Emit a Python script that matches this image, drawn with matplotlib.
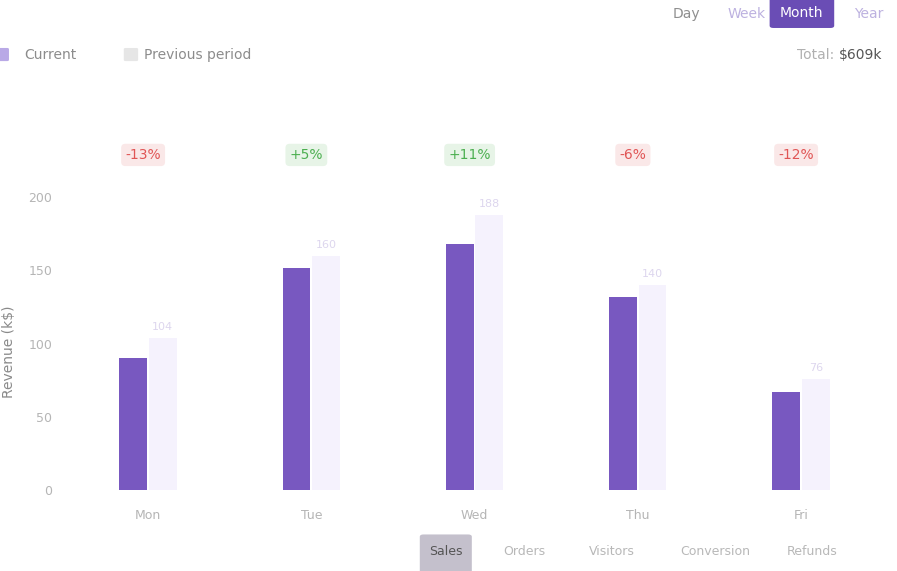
import numpy as np
import matplotlib.pyplot as plt
from matplotlib.patches import FancyBboxPatch

# data (blurred, estimated)
categories = ['Mon', 'Tue', 'Wed', 'Thu', 'Fri']
current = [90, 152, 168, 132, 67]
previous = [104, 160, 188, 140, 76]
changes = ['-13%', '+5%', '+11%', '-6%', '-12%']
yticks = [0, 50, 100, 150, 200]
range_opts = ['Day', 'Week', 'Month', 'Year']
bottom_tabs = ['Sales', 'Orders', 'Visitors', 'Conversion', 'Refunds']

purple = '#7858c0'
pale = '#f5f2fd'

fig = plt.figure(figsize=(8.97, 5.71), dpi=100)
ax = fig.add_axes([0.074, 0.142, 0.91, 0.538])

x = np.arange(len(categories))
w = 0.17
ax.bar(x - 0.09, current, w, color=purple, zorder=3)
ax.bar(x + 0.09, previous, w, color=pale, zorder=2)
for i in range(len(x)):
    ax.text(x[i] + 0.09, previous[i] + 4, str(previous[i]), ha='center', va='bottom',
            fontsize=8, color='#ddd6ee')
    c = '#e05555' if changes[i].startswith('-') else '#4caf50'
    ax.text(x[i] - 0.03, 229, changes[i], ha='center', va='center', fontsize=10,
            color=c, clip_on=False,
            bbox=dict(boxstyle='round,pad=0.3', fc=c + '22', ec='none'))

ax.set_xlim(-0.5, 4.5)
ax.set_ylim(0, 210)
ax.set_yticks(yticks)
ax.set_yticklabels([str(t) for t in yticks], color='#b5b5b5', fontsize=9)
ax.set_xticks(x)
ax.set_xticklabels(categories, color='#b5b5b5', fontsize=9)
ax.tick_params(length=0, pad=14)
ax.tick_params(axis='y', pad=10)
for s in ax.spines.values():
    s.set_visible(False)
ax.set_ylabel('Revenue (k$)', color='#8a8a8a', fontsize=10)
ax.yaxis.set_label_coords(-0.062, 0.45)

# legend row, top left
fig.patches.append(FancyBboxPatch((-0.004, 0.895), 0.012, 0.019, boxstyle='round,pad=0.002',
                                  transform=fig.transFigure, fc='#b9a9e6', ec='none'))
fig.text(0.027, 0.904, 'Current', color='#8c8c8c', fontsize=10, va='center')
fig.patches.append(FancyBboxPatch((0.140, 0.895), 0.012, 0.019, boxstyle='round,pad=0.002',
                                  transform=fig.transFigure, fc='#e6e6e6', ec='none'))
fig.text(0.160, 0.904, 'Previous period', color='#8c8c8c', fontsize=10, va='center')

# range buttons, top right
xs = [0.765, 0.832, 0.893, 0.968]
for i, lab in enumerate(range_opts):
    if i == 2:
        fig.patches.append(FancyBboxPatch((0.862, 0.955), 0.064, 0.06, boxstyle='round,pad=0.004',
                                          transform=fig.transFigure, fc='#6a4db5', ec='none'))
        fig.text(xs[i], 0.978, lab, color='white', fontsize=10, ha='center', va='center')
    else:
        fig.text(xs[i], 0.975, lab, color='#bdb2e0' if i else '#8f8f8f', fontsize=10,
                 ha='center', va='center')
fig.text(0.935, 0.904, 'Total: ', color='#b0b0b0', fontsize=10, ha='right', va='center')
fig.text(0.935, 0.904, '$609k', color='#555555', fontsize=10, ha='left', va='center')

# bottom tabs
tab_x = [0.497, 0.585, 0.682, 0.797, 0.905]
for i, lab in enumerate(bottom_tabs):
    if i == 0:
        fig.patches.append(FancyBboxPatch((0.472, 0.0), 0.05, 0.06, boxstyle='round,pad=0.004',
                                          transform=fig.transFigure, fc='#c4c0cc', ec='none'))
        fig.text(tab_x[i], 0.035, lab, color='#555555', fontsize=9, ha='center', va='center')
    else:
        fig.text(tab_x[i], 0.035, lab, color='#b8b8b8', fontsize=9, ha='center', va='center')

fig.savefig('out.png', dpi=100)
